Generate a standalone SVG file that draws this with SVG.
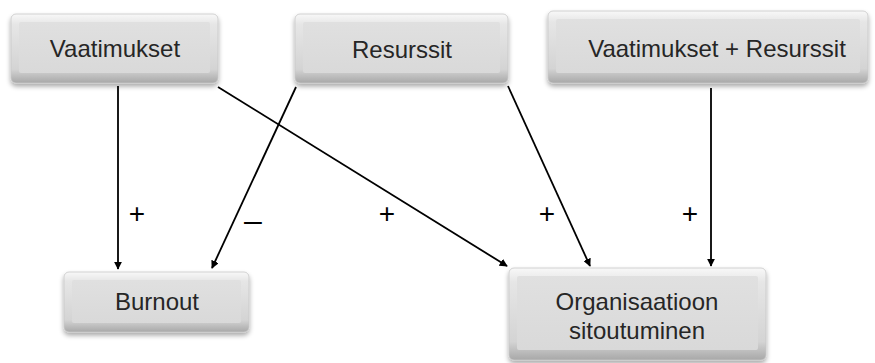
<svg xmlns="http://www.w3.org/2000/svg" width="875" height="363" viewBox="0 0 875 363">
<defs>
  <linearGradient id="bevel" x1="0" y1="0" x2="0" y2="1">
    <stop offset="0" stop-color="#f8f8f8"/>
    <stop offset="0.15" stop-color="#e6e6e6"/>
    <stop offset="0.8" stop-color="#d4d4d4"/>
    <stop offset="1" stop-color="#a8a8a8"/>
  </linearGradient>
  <linearGradient id="face" x1="0" y1="0" x2="0" y2="1">
    <stop offset="0" stop-color="#e0e0e0"/>
    <stop offset="1" stop-color="#d9d9d9"/>
  </linearGradient>
  <filter id="sh" x="-10%" y="-20%" width="120%" height="150%">
    <feGaussianBlur in="SourceAlpha" stdDeviation="2.5"/>
    <feOffset dx="0" dy="3" result="b"/>
    <feComponentTransfer><feFuncA type="linear" slope="0.35"/></feComponentTransfer>
    <feMerge><feMergeNode/><feMergeNode in="SourceGraphic"/></feMerge>
  </filter>
  <marker id="arr" viewBox="0 0 10 10" refX="9" refY="5" markerWidth="8" markerHeight="8" orient="auto" markerUnits="userSpaceOnUse">
    <path d="M0,0 L10,5 L0,10 z" fill="#000"/>
  </marker>
</defs>
<style>
  .box { fill: url(#bevel); stroke: #c8c8c8; stroke-width: 0.8; filter: url(#sh); }
  .in { fill: url(#face); }
  .lbl { font-family: "Liberation Sans", Arial, sans-serif; font-size: 24px; fill: #262626; text-anchor: middle; }
  .sign { font-family: "Liberation Sans", Arial, sans-serif; font-size: 28px; fill: #000; text-anchor: middle; }
  .minus { font-size: 32px; }
  .con { stroke: #000; stroke-width: 1.8; fill: none; marker-end: url(#arr); }
</style>
<rect width="875" height="363" fill="#fff"/>
<g id="connectors">
  <line class="con" x1="118" y1="86" x2="118" y2="269"/>
  <line class="con" x1="218" y1="87" x2="507" y2="266"/>
  <line class="con" x1="296" y1="87" x2="212" y2="268"/>
  <line class="con" x1="508" y1="86" x2="590" y2="266"/>
  <line class="con" x1="711" y1="88" x2="711" y2="266"/>
  <text class="sign" x="137" y="223">+</text>
  <text class="sign minus" x="253" y="231">–</text>
  <text class="sign" x="387" y="223">+</text>
  <text class="sign" x="547" y="223">+</text>
  <text class="sign" x="690" y="223">+</text>
</g>
<g id="vaatimukset">
  <rect class="box" x="11" y="14" width="207" height="69" rx="5"/>
  <rect class="in" x="19" y="22" width="191" height="51" rx="2"/>
  <text class="lbl" x="115" y="57">Vaatimukset</text>
</g>
<g id="resurssit">
  <rect class="box" x="295" y="14" width="213" height="69" rx="5"/>
  <rect class="in" x="303" y="22" width="197" height="51" rx="2"/>
  <text class="lbl" x="402" y="58">Resurssit</text>
</g>
<g id="vaatimukset-resurssit">
  <rect class="box" x="548" y="11" width="320" height="72" rx="5"/>
  <rect class="in" x="556" y="19" width="304" height="54" rx="2"/>
  <text class="lbl" x="717" y="57">Vaatimukset + Resurssit</text>
</g>
<g id="burnout">
  <rect class="box" x="64" y="272" width="185" height="60" rx="5"/>
  <rect class="in" x="72" y="280" width="169" height="43" rx="2"/>
  <text class="lbl" x="157" y="310">Burnout</text>
</g>
<g id="organisaatioon">
  <rect class="box" x="509" y="268" width="257" height="92" rx="5"/>
  <rect class="in" x="517" y="276" width="241" height="74" rx="2"/>
  <text class="lbl" x="637" y="310">Organisaatioon</text>
  <text class="lbl" x="637" y="339">sitoutuminen</text>
</g>
</svg>
